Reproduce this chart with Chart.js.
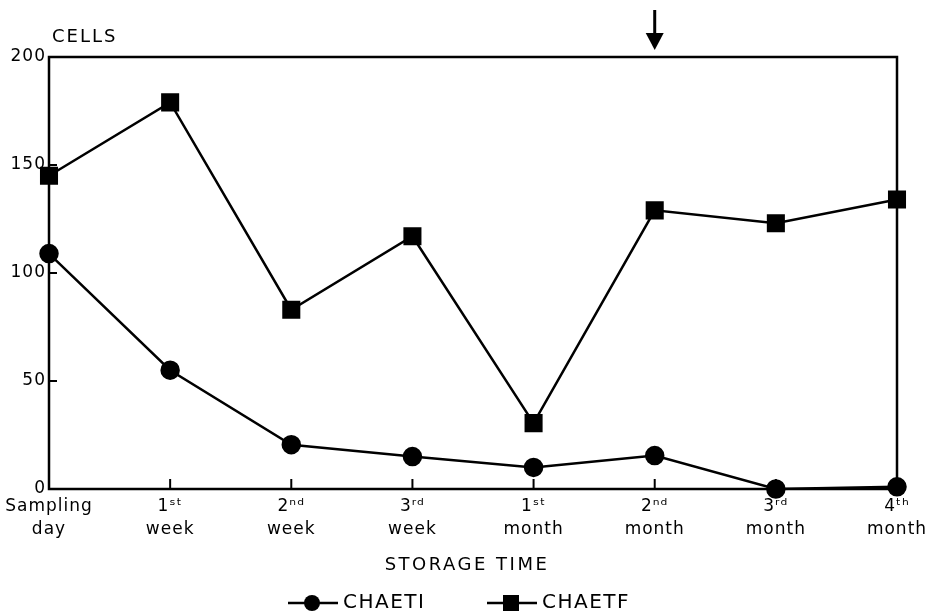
<!DOCTYPE html>
<html>
<head>
<meta charset="utf-8">
<script src="https://cdn.jsdelivr.net/npm/chart.js@4"></script>
<style>
  html, body { margin: 0; padding: 0; background: #fff; }
  #wrap { width: 929px; height: 611px; }
</style>
</head>
<body>
<div id="wrap"><canvas id="chart" width="929" height="611"></canvas></div>
<script>
const categories = [
  ['Sampling', 'day'],
  ['1ˢᵗ', 'week'],
  ['2ⁿᵈ', 'week'],
  ['3ʳᵈ', 'week'],
  ['1ˢᵗ', 'month'],
  ['2ⁿᵈ', 'month'],
  ['3ʳᵈ', 'month'],
  ['4ᵗʰ', 'month']
];
const chaeti = [109, 55, 20.5, 15, 10, 15.5, 0, 1];
const chaetf = [145, 179, 83, 117, 30.5, 129, 123, 134];
const yTicks = [0, 50, 100, 150, 200];
const arrowAt = 5; // index of the marked sampling point

const font = "'DejaVu Sans', sans-serif";
const ctx = document.getElementById('chart').getContext('2d');

// frame, inner ticks, arrow, captions and legend
const extras = {
  id: 'extras',
  beforeDraw(chart) {
    chart.ctx.letterSpacing = '1px';
  },
  afterDraw(chart) {
    const c = chart.ctx, a = chart.chartArea;
    const xs = chart.scales.x, ys = chart.scales.y;
    c.save();
    c.strokeStyle = '#000';
    c.fillStyle = '#000';
    c.lineWidth = 2.5;
    c.strokeRect(a.left, a.top, a.right - a.left, a.bottom - a.top);

    c.lineWidth = 2;
    categories.forEach((_, i) => {
      if (i === 0 || i === categories.length - 1) return;
      const x = xs.getPixelForValue(i);
      c.beginPath(); c.moveTo(x, a.bottom); c.lineTo(x, a.bottom - 10); c.stroke();
    });
    yTicks.forEach(v => {
      if (v === 0 || v === 200) return;
      const y = ys.getPixelForValue(v);
      c.beginPath(); c.moveTo(a.left, y); c.lineTo(a.left + 8, y); c.stroke();
    });

    // arrow
    const ax = xs.getPixelForValue(arrowAt);
    c.lineWidth = 3;
    c.beginPath(); c.moveTo(ax, 10); c.lineTo(ax, 38); c.stroke();
    c.beginPath(); c.moveTo(ax - 9, 33); c.lineTo(ax + 9, 33); c.lineTo(ax, 50); c.closePath(); c.fill();

    // captions
    c.font = '18px ' + font;
    c.letterSpacing = '2px';
    c.textAlign = 'left';
    c.textBaseline = 'middle';
    c.fillText('CELLS', 52, 37);
    c.letterSpacing = '2.5px';
    c.textAlign = 'center';
    c.fillText('STORAGE TIME', (a.left + a.right) / 2 - 6, 565);

    // legend
    const items = [
      { x: 288, label: 'CHAETI', style: 'circle' },
      { x: 487, label: 'CHAETF', style: 'rect' }
    ];
    const ly = 603;
    c.textAlign = 'left';
    items.forEach(it => {
      c.lineWidth = 2.5;
      c.beginPath(); c.moveTo(it.x, ly); c.lineTo(it.x + 50, ly); c.stroke();
      const mx = it.x + 24;
      c.beginPath();
      if (it.style === 'circle') c.arc(mx, ly, 8, 0, Math.PI * 2);
      else c.rect(mx - 8, ly - 8, 16, 16);
      c.fill();
      c.font = '20px ' + font;
      c.letterSpacing = '1.5px';
      c.fillText(it.label, it.x + 55, ly);
    });
    c.restore();
  }
};

new Chart(ctx, {
  type: 'line',
  data: {
    labels: categories,
    datasets: [
      {
        label: 'CHAETI', data: chaeti,
        borderColor: '#000', backgroundColor: '#000', borderWidth: 2.5,
        pointStyle: 'circle', pointRadius: 8.5, pointHoverRadius: 8.5,
        tension: 0, clip: false
      },
      {
        label: 'CHAETF', data: chaetf,
        borderColor: '#000', backgroundColor: '#000', borderWidth: 2.5,
        pointStyle: 'rect', pointRadius: 11, pointHoverRadius: 11,
        tension: 0, clip: false
      }
    ]
  },
  options: {
    responsive: false,
    animation: false,
    events: [],
    layout: { padding: { top: 57, right: 32, left: 0, bottom: 0 } },
    plugins: { legend: { display: false }, tooltip: { enabled: false } },
    scales: {
      x: {
        type: 'category',
        offset: false,
        grid: { display: false, drawTicks: false },
        border: { display: false },
        ticks: {
          color: '#000', padding: 7, maxRotation: 0, autoSkip: false,
          font: { family: font, size: 17, lineHeight: 1.3 }
        },
        afterFit: s => { s.height = 122; s.paddingLeft = 0; s.paddingRight = 0; }
      },
      y: {
        min: 0, max: 200,
        afterBuildTicks: s => { s.ticks = yTicks.map(v => ({ value: v })); },
        grid: { display: false, drawTicks: false },
        border: { display: false },
        ticks: {
          color: '#000', padding: 3,
          font: { family: font, size: 17 }
        },
        afterFit: s => { s.width = 49; }
      }
    }
  },
  plugins: [extras]
});
</script>
</body>
</html>
